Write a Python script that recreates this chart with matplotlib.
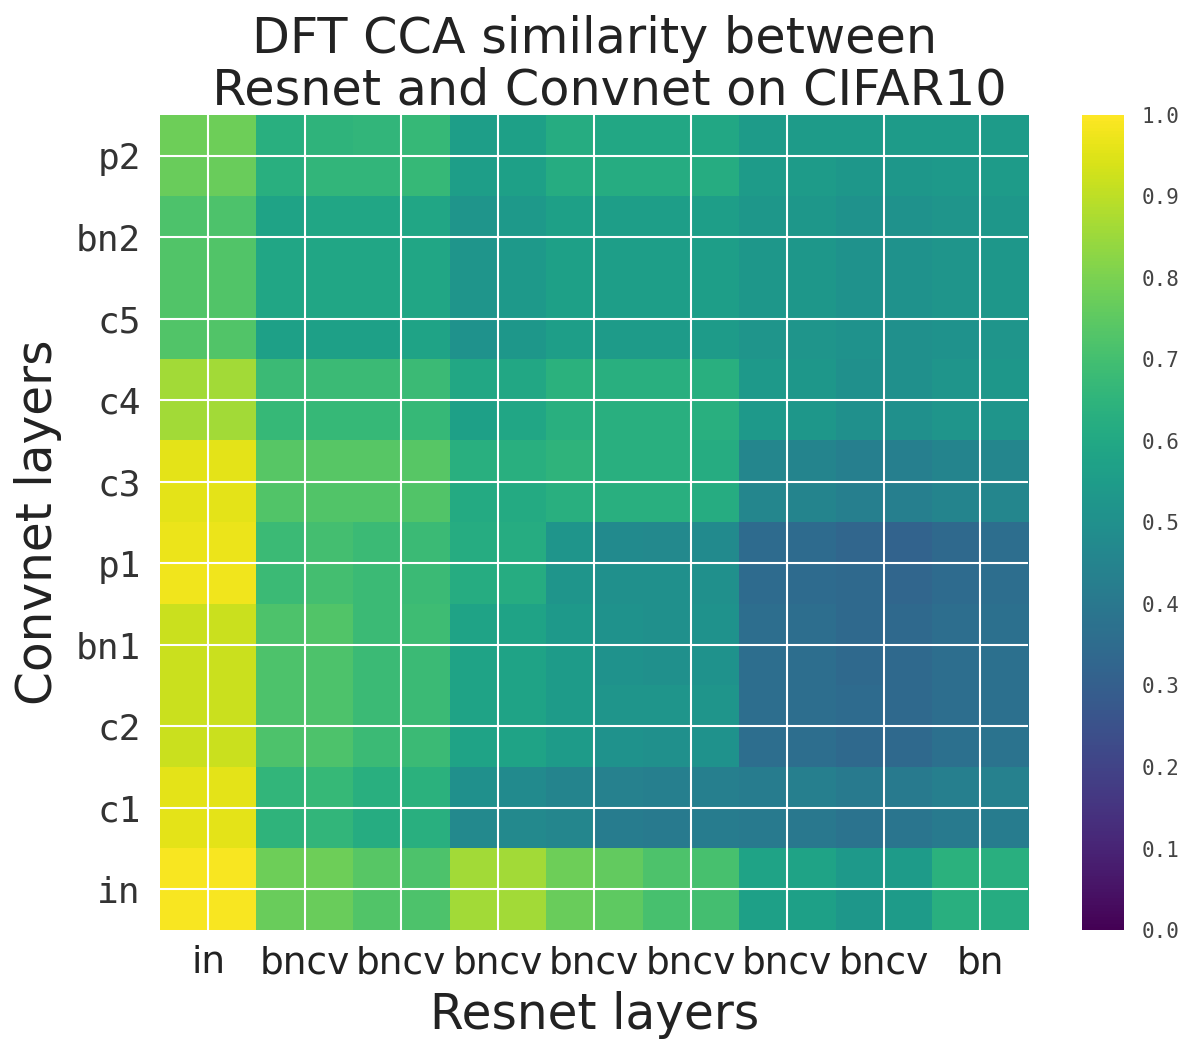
import numpy as np
import matplotlib
matplotlib.use("Agg")
import matplotlib.pyplot as plt

# CCA similarity, two rows per convnet layer (top to bottom), 18 resnet columns
sim_p2 = [[0.78, 0.78, 0.63, 0.65, 0.66, 0.67, 0.56, 0.57, 0.62, 0.60, 0.60, 0.60, 0.55, 0.55, 0.55, 0.55, 0.55, 0.55],
          [0.77, 0.77, 0.63, 0.66, 0.66, 0.67, 0.56, 0.57, 0.62, 0.62, 0.62, 0.62, 0.55, 0.55, 0.53, 0.53, 0.54, 0.55]]
sim_bn2 = [[0.72, 0.72, 0.58, 0.59, 0.59, 0.59, 0.52, 0.54, 0.57, 0.56, 0.56, 0.56, 0.53, 0.53, 0.51, 0.51, 0.52, 0.53],
           [0.73, 0.73, 0.59, 0.59, 0.59, 0.59, 0.52, 0.54, 0.57, 0.56, 0.56, 0.56, 0.53, 0.53, 0.51, 0.51, 0.52, 0.53]]
sim_c5 = [[0.73, 0.73, 0.59, 0.59, 0.59, 0.59, 0.52, 0.54, 0.57, 0.56, 0.56, 0.56, 0.53, 0.53, 0.51, 0.51, 0.52, 0.53],
          [0.73, 0.73, 0.57, 0.57, 0.57, 0.58, 0.51, 0.53, 0.56, 0.55, 0.55, 0.55, 0.52, 0.52, 0.51, 0.50, 0.51, 0.52]]
sim_c4 = [[0.86, 0.86, 0.68, 0.68, 0.68, 0.68, 0.60, 0.60, 0.64, 0.63, 0.63, 0.63, 0.54, 0.53, 0.50, 0.50, 0.52, 0.53],
          [0.86, 0.86, 0.67, 0.67, 0.67, 0.67, 0.57, 0.59, 0.63, 0.63, 0.63, 0.63, 0.54, 0.53, 0.50, 0.50, 0.52, 0.52]]
sim_c3 = [[0.96, 0.96, 0.74, 0.74, 0.74, 0.74, 0.63, 0.63, 0.65, 0.63, 0.63, 0.62, 0.46, 0.45, 0.43, 0.43, 0.45, 0.46],
          [0.96, 0.96, 0.73, 0.73, 0.73, 0.73, 0.61, 0.61, 0.63, 0.63, 0.63, 0.62, 0.46, 0.45, 0.43, 0.43, 0.45, 0.46]]
sim_p1 = [[0.97, 0.97, 0.68, 0.70, 0.68, 0.68, 0.62, 0.62, 0.52, 0.48, 0.47, 0.48, 0.35, 0.35, 0.33, 0.32, 0.34, 0.36],
          [0.98, 0.98, 0.68, 0.70, 0.68, 0.68, 0.62, 0.62, 0.52, 0.50, 0.50, 0.50, 0.35, 0.35, 0.34, 0.33, 0.35, 0.36]]
sim_bn1 = [[0.92, 0.92, 0.72, 0.73, 0.68, 0.69, 0.58, 0.58, 0.54, 0.51, 0.50, 0.51, 0.36, 0.36, 0.34, 0.34, 0.36, 0.37],
           [0.92, 0.92, 0.72, 0.72, 0.68, 0.68, 0.58, 0.58, 0.55, 0.51, 0.50, 0.51, 0.36, 0.36, 0.34, 0.34, 0.36, 0.37]]
sim_c2 = [[0.92, 0.92, 0.72, 0.72, 0.68, 0.68, 0.58, 0.58, 0.55, 0.52, 0.52, 0.52, 0.36, 0.36, 0.35, 0.34, 0.36, 0.37],
          [0.92, 0.92, 0.72, 0.72, 0.68, 0.68, 0.58, 0.58, 0.55, 0.51, 0.50, 0.51, 0.36, 0.36, 0.34, 0.34, 0.37, 0.38]]
sim_c1 = [[0.96, 0.96, 0.66, 0.67, 0.63, 0.64, 0.50, 0.48, 0.45, 0.44, 0.43, 0.43, 0.42, 0.43, 0.41, 0.41, 0.43, 0.44],
          [0.96, 0.96, 0.65, 0.66, 0.62, 0.63, 0.47, 0.47, 0.46, 0.42, 0.41, 0.42, 0.41, 0.40, 0.38, 0.39, 0.41, 0.42]]
sim_in = [[0.99, 0.99, 0.78, 0.78, 0.74, 0.72, 0.86, 0.86, 0.78, 0.76, 0.72, 0.71, 0.58, 0.58, 0.54, 0.55, 0.64, 0.63],
          [0.99, 0.99, 0.77, 0.77, 0.73, 0.72, 0.86, 0.86, 0.77, 0.75, 0.71, 0.70, 0.57, 0.57, 0.53, 0.55, 0.63, 0.62]]

convnet_labels = ["p2", "bn2", "c5", "c4", "c3", "p1", "bn1", "c2", "c1", "in"]
resnet_labels = ["in", "bncv", "bncv", "bncv", "bncv", "bncv", "bncv", "bncv", "bn"]

sim = np.vstack([sim_p2, sim_bn2, sim_c5, sim_c4, sim_c3,
                 sim_p1, sim_bn1, sim_c2, sim_c1, sim_in])

fig = plt.figure(figsize=(11.86, 10.41), dpi=100)
ax = fig.add_axes([0.135, 0.1066, 0.732, 0.783])
cax = fig.add_axes([0.912, 0.1066, 0.0354, 0.783])

im = ax.imshow(sim, cmap="viridis", vmin=0, vmax=1, aspect="auto",
               interpolation="nearest")

# one tick per layer, sitting between its two rows/columns
ax.set_xticks(np.arange(len(resnet_labels)) * 2 + 0.5)
ax.set_xticklabels(resnet_labels, fontsize=27, color="#222222")
ax.set_yticks(np.arange(len(convnet_labels)) * 2 + 0.5)
ax.set_yticklabels(convnet_labels, fontsize=26, color="#333333",
                   family="DejaVu Sans Mono")
ax.tick_params(length=0)
ax.tick_params(axis="x", pad=11)
ax.tick_params(axis="y", pad=14)
ax.set_axisbelow(False)
ax.grid(True, color="white", linewidth=1.5)
for s in ax.spines.values():
    s.set_visible(False)

ax.set_xlabel("Resnet layers", fontsize=35, color="#222222", labelpad=7)
ax.set_ylabel("Convnet layers", fontsize=35, color="#222222", labelpad=10)
ax.set_title("DFT CCA similarity between\n  Resnet and Convnet on CIFAR10",
             fontsize=35.5, color="#222222", linespacing=1.1, pad=4)

cb = fig.colorbar(im, cax=cax)
cb.set_ticks(np.arange(0, 1.01, 0.1))
cb.outline.set_visible(False)
cax.tick_params(length=0, pad=13, labelsize=15, labelcolor="#444444")
for t in cax.get_yticklabels():
    t.set_family("DejaVu Sans Mono")

fig.savefig("out.png", dpi=100)
